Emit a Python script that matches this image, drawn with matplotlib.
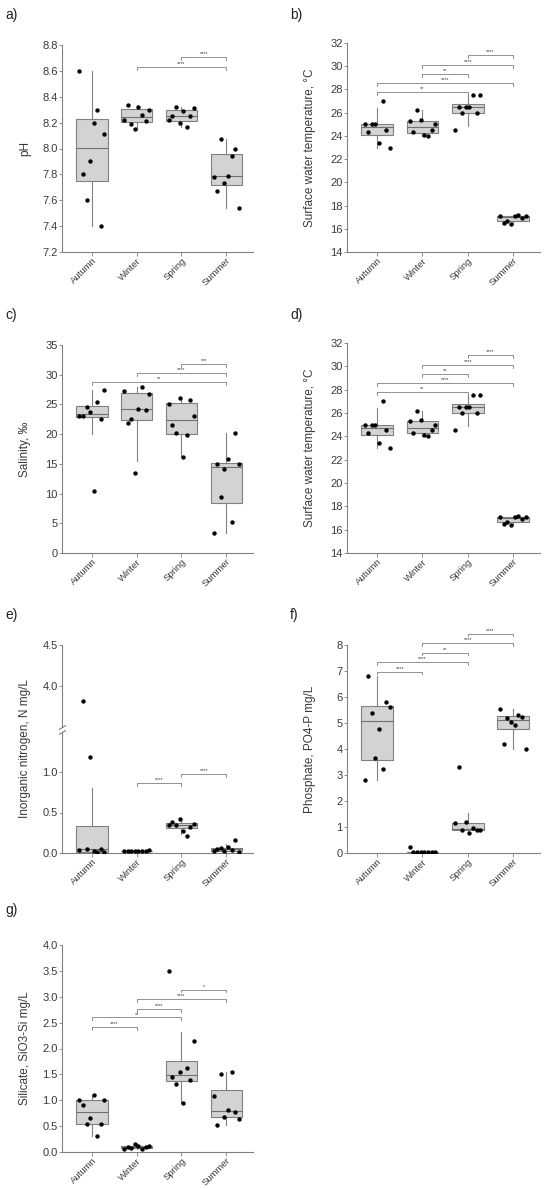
import matplotlib
matplotlib.use("Agg")
import matplotlib.pyplot as plt
import numpy as np

plt.rcParams['font.family'] = ['Liberation Sans', 'DejaVu Sans']

seasons = ['Autumn', 'Winter', 'Spring', 'Summer']

# values per season, listed in the left-to-right order the points appear
ph = [
    [8.60, 7.80, 7.60, 7.90, 8.20, 8.30, 7.40, 8.11],
    [8.22, 8.34, 8.19, 8.15, 8.32, 8.26, 8.21, 8.30],
    [8.22, 8.25, 8.32, 8.20, 8.29, 8.17, 8.25, 8.31],
    [7.78, 7.67, 8.07, 7.73, 7.79, 7.94, 8.00, 7.54],
]
temperature = [
    [25.0, 24.3, 25.0, 25.0, 23.4, 27.0, 24.5, 23.0],
    [25.3, 24.3, 26.2, 25.4, 24.1, 24.0, 24.5, 25.0],
    [24.5, 26.5, 26.0, 26.5, 26.5, 27.5, 26.0, 27.5],
    [17.1, 16.5, 16.7, 16.4, 17.1, 17.2, 16.9, 17.1],
]
salinity = [
    [23.0, 23.0, 24.5, 23.7, 10.5, 25.4, 22.5, 27.4],
    [27.3, 21.8, 22.5, 13.4, 24.2, 28.0, 24.1, 26.7],
    [25.1, 21.5, 20.2, 26.0, 16.1, 19.8, 25.7, 23.1],
    [3.4, 15.0, 9.5, 14.1, 15.8, 5.3, 20.2, 15.0],
]
nitrogen = [
    [0.04, 3.82, 0.05, 1.18, 0.02, 0.01, 0.05, 0.01],
    [0.03, 0.02, 0.03, 0.03, 0.02, 0.03, 0.03, 0.04],
    [0.34, 0.38, 0.345, 0.42, 0.27, 0.21, 0.325, 0.36],
    [0.03, 0.05, 0.06, 0.02, 0.07, 0.04, 0.155, 0.016],
]
phosphate = [
    [2.82, 6.81, 5.38, 3.67, 4.76, 3.25, 5.80, 5.61],
    [0.22, 0.02, 0.02, 0.02, 0.02, 0.02, 0.02, 0.05],
    [1.15, 3.29, 0.90, 1.19, 0.77, 0.95, 0.90, 0.90],
    [5.54, 4.20, 5.21, 5.02, 4.94, 5.29, 5.25, 4.00],
]
silicate = [
    [1.01, 0.915, 0.54, 0.65, 1.10, 0.31, 0.54, 1.01],
    [0.05, 0.10, 0.08, 0.15, 0.11, 0.06, 0.10, 0.11],
    [3.50, 1.44, 1.31, 1.54, 0.95, 1.63, 1.40, 2.14],
    [1.09, 0.53, 1.50, 0.685, 0.82, 1.55, 0.77, 0.63],
]

# significance brackets: (group a, group b, height, stars)
ph_sig = [(2, 3, 8.705, '****'), (1, 3, 8.633, '****')]
temp_sig = [(2, 3, 31.0, '****'), (1, 3, 30.1, '****'), (1, 2, 29.36, '**'),
            (0, 3, 28.55, '****'), (0, 2, 27.78, '**')]
sal_sig = [(2, 3, 31.8, '***'), (1, 3, 30.24, '****'), (0, 3, 28.73, '**')]
nit_sig = [(2, 3, 0.98, '****'), (1, 2, 0.865, '****')]
phos_sig = [(2, 3, 8.44, '****'), (1, 3, 8.09, '****'), (1, 2, 7.71, '**'),
            (0, 2, 7.35, '****'), (0, 1, 6.98, '****')]
sil_sig = [(2, 3, 3.14, '*'), (1, 3, 2.96, '****'), (1, 2, 2.77, '****'),
           (0, 2, 2.60, '**'), (0, 1, 2.42, '****')]

AXCOL = '#808080'
TXTCOL = '#3a3a3a'
W, H = 550, 1189

fig = plt.figure(figsize=(W / 100, H / 100), dpi=100)


def rect(x0, x1, y0, y1):
    return [x0 / W, 1 - y1 / H, (x1 - x0) / W, (y1 - y0) / H]


def box_stats(vals):
    v = np.asarray(vals)
    q1, med, q3 = np.percentile(v, [25, 50, 75])
    iqr = q3 - q1
    return dict(med=med, q1=q1, q3=q3,
                whislo=max(v.min(), q1 - 1.5 * iqr),
                whishi=min(v.max(), q3 + 1.5 * iqr), fliers=[])


def style_axis(ax, xaxis=True):
    for s in ['top', 'right']:
        ax.spines[s].set_visible(False)
    for s in ['left', 'bottom']:
        ax.spines[s].set_color(AXCOL)
        ax.spines[s].set_linewidth(0.8)
    ax.tick_params(axis='y', length=2, width=0.6, color=AXCOL, pad=1,
                   labelsize=8, labelcolor=TXTCOL)
    ax.tick_params(axis='x', length=3, width=0.6, color=AXCOL, pad=0,
                   labelsize=6.8, labelcolor=TXTCOL)
    ax.set_xlim(-0.67, 3.6)
    ax.set_xticks(range(4))
    if xaxis:
        ax.set_xticklabels(seasons, rotation=45, ha='right', rotation_mode='anchor')
    else:
        ax.spines['bottom'].set_visible(False)
        ax.tick_params(axis='x', length=0, labelbottom=False)


def draw_groups(ax, groups):
    stats = [box_stats(g) for g in groups]
    ax.bxp(stats, positions=range(4), widths=0.7, patch_artist=True,
           showcaps=False, showfliers=False,
           boxprops=dict(facecolor='#d3d3d3', edgecolor=AXCOL, linewidth=0.8),
           medianprops=dict(color='#707070', linewidth=0.8),
           whiskerprops=dict(color=AXCOL, linewidth=0.8))
    for i, g in enumerate(groups):
        xs = i + np.linspace(-0.28, 0.28, len(g))
        ax.scatter(xs, g, s=10, color='black', zorder=3, linewidths=0)


def draw_brackets(ax, sigs, span):
    drop = 0.014 * span
    for a, b, y, lab in sigs:
        ax.plot([a, a, b, b], [y - drop, y, y, y - drop], color=AXCOL, lw=0.6,
                clip_on=False)
        ax.annotate(lab, ((a + b) / 2, y), xytext=(0, 0.6), textcoords='offset points',
                    ha='center', va='bottom', fontsize=4, color=TXTCOL,
                    annotation_clip=False)


def panel(r, groups, sigs, ylim, yticks, fmt, ylabel):
    ax = fig.add_axes(r)
    draw_groups(ax, groups)
    ax.set_ylim(*ylim)
    ax.set_yticks(yticks)
    ax.set_yticklabels([fmt.format(t) for t in yticks])
    style_axis(ax)
    draw_brackets(ax, sigs, ylim[1] - ylim[0])
    ax.set_ylabel(ylabel, fontsize=8.5, color=TXTCOL)
    ax.yaxis.set_label_coords(-0.16, 0.5)
    return ax


LX = (62, 253)
RX = (347, 540)

panel(rect(*LX, 45, 252), ph, ph_sig, (7.2, 8.8), np.arange(7.2, 8.81, 0.2), '{:.1f}', 'pH')
panel(rect(*RX, 43, 252), temperature, temp_sig, (14, 32), np.arange(14, 33, 2), '{:.0f}',
      'Surface water temperature, °C')
panel(rect(*LX, 345, 553), salinity, sal_sig, (0, 35), np.arange(0, 36, 5), '{:.0f}',
      'Salinity, ‰')
panel(rect(*RX, 343, 553), temperature, temp_sig, (14, 32), np.arange(14, 33, 2), '{:.0f}',
      'Surface water temperature, °C')

# e) broken y axis
ax_lo = fig.add_axes(rect(*LX, 731.5, 853))
ax_hi = fig.add_axes(rect(*LX, 645, 727))
for ax, lim, ticks, show_x in [(ax_lo, (0, 1.5), [0.0, 0.5, 1.0], True),
                                (ax_hi, (3.5, 4.5), [4.0, 4.5], False)]:
    draw_groups(ax, nitrogen)
    ax.set_ylim(*lim)
    ax.set_yticks(ticks)
    ax.set_yticklabels(['{:.1f}'.format(t) for t in ticks])
    style_axis(ax, show_x)
draw_brackets(ax_lo, nit_sig, 2.57)
ax_lo.set_ylabel('Inorganic nitrogen, N mg/L', fontsize=8.5, color=TXTCOL)
ax_lo.yaxis.set_label_coords(-0.16, (853 - 749) / 121.5)
brk = dict(marker=[(-1, -0.6), (1, 0.6)], markersize=5, linestyle='none',
           color=AXCOL, mec=AXCOL, mew=0.8, clip_on=False)
ax_lo.plot([0], [1], transform=ax_lo.transAxes, **brk)
ax_hi.plot([0], [0], transform=ax_hi.transAxes, **brk)

panel(rect(*RX, 645, 853), phosphate, phos_sig, (0, 8), np.arange(0, 9, 1), '{:.0f}',
      'Phosphate, PO4-P mg/L')
panel(rect(*LX, 945, 1152), silicate, sil_sig, (0, 4), np.arange(0, 4.01, 0.5), '{:.1f}',
      'Silicate, SiO3-Si mg/L')

for lab, x, y in [('a)', 5, 8), ('b)', 290, 8), ('c)', 5, 308), ('d)', 290, 308),
                  ('e)', 5, 608), ('f)', 290, 608), ('g)', 5, 903)]:
    fig.text(x / W, 1 - y / H, lab, fontsize=10, color='#222222', va='top', ha='left')

fig.savefig('out.png', dpi=100)
